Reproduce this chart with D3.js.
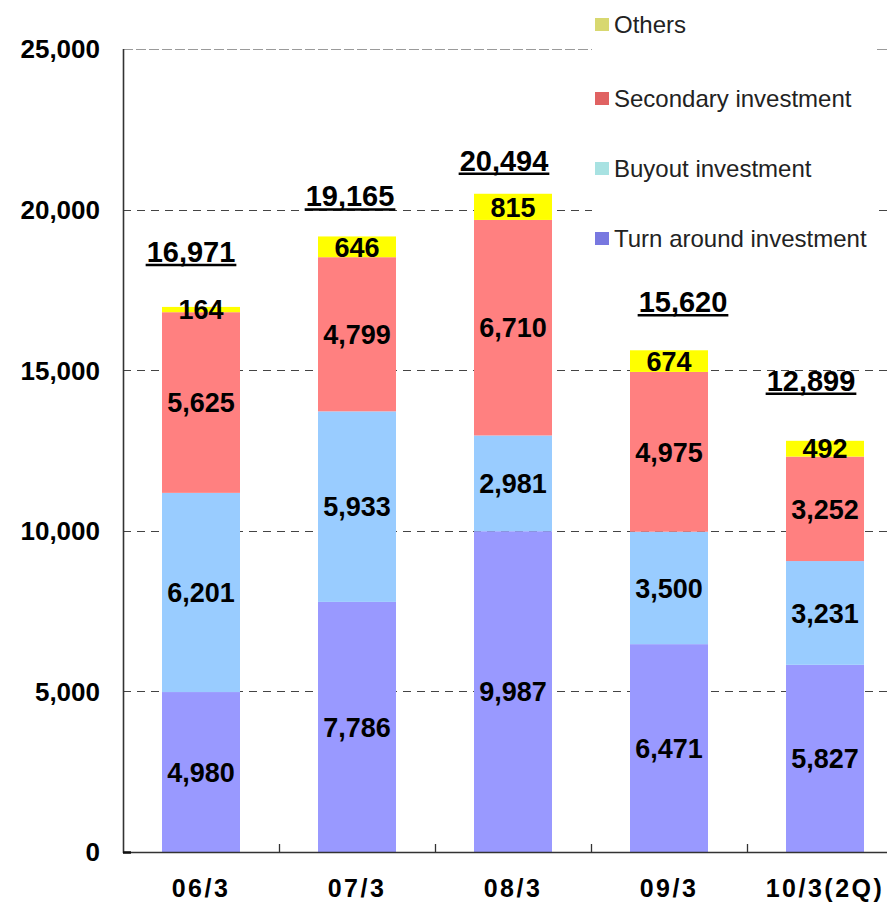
<!DOCTYPE html>
<html>
<head>
<meta charset="utf-8">
<script src="https://cdn.jsdelivr.net/npm/d3@7"></script>
<style>
  html, body { margin: 0; padding: 0; background: #fff; }
  svg { display: block; font-family: "Liberation Sans", Arial, sans-serif; }
</style>
</head>
<body>
<svg id="chart" width="887" height="903"></svg>
<script>
// ---- data ----
const categories = ["06/3", "07/3", "08/3", "09/3", "10/3(2Q)"];
const turnAround = [4980, 7786, 9987, 6471, 5827];
const buyout     = [6201, 5933, 2981, 3500, 3231];
const secondary  = [5625, 4799, 6710, 4975, 3252];
const others     = [164, 646, 815, 674, 492];
const totals     = [16971, 19165, 20494, 15620, 12899];
const yTicks     = [0, 5000, 10000, 15000, 20000, 25000];
const seriesNames = ["Turn around investment", "Buyout investment", "Secondary investment", "Others"];
const seriesKeys  = ["turn", "buyout", "secondary", "others"];

// ---- style/layout ----
const barColors    = { turn: "#9999ff", buyout: "#99ccff", secondary: "#ff8080", others: "#ffff00" };
const legendColors = { turn: "#7878e0", buyout: "#a8e2e2", secondary: "#e06262", others: "#d8d870" };
const totalGap = [43, 28, 21, 36, 45];   // pixel gap between bar top and total label underline
const totalDx  = [-10, -7, -9, 14, -14]; // horizontal nudge of total labels

const svg = d3.select("#chart");
const plotLeft = 123, plotBottom = 852, plotTop = 49, step = 156;
const x = d3.scaleBand().domain(categories).range([plotLeft, plotLeft + step * categories.length]).paddingInner(0.5).paddingOuter(0.25);
const y = d3.scaleLinear().domain([0, 25000]).range([plotBottom, plotTop]);

const rows = categories.map((c, i) => ({
  cat: c, turn: turnAround[i], buyout: buyout[i], secondary: secondary[i], others: others[i], total: totals[i]
}));
const stack = d3.stack().keys(seriesKeys)(rows);

// gridlines
svg.append("g").selectAll("line").data(yTicks.filter(t => t > 0)).join("line")
  .attr("x1", plotLeft).attr("x2", 887)
  .attr("y1", d => Math.round(y(d)) + 0.5).attr("y2", d => Math.round(y(d)) + 0.5)
  .attr("stroke", d => d === 25000 ? "#9a9a9a" : "#444")
  .attr("stroke-width", 1.2)
  .attr("stroke-dasharray", d => d === 25000 ? "10,3" : "8,6");

// bars
const g = svg.append("g");
stack.forEach(layer => {
  g.append("g").selectAll("rect").data(layer).join("rect")
    .attr("x", d => x(d.data.cat))
    .attr("width", x.bandwidth())
    .attr("y", d => y(d[1]))
    .attr("height", d => y(d[0]) - y(d[1]))
    .attr("fill", barColors[layer.key]);
});

// segment labels
stack.forEach(layer => {
  g.append("g").selectAll("text").data(layer).join("text")
    .attr("x", d => x(d.data.cat) + x.bandwidth() / 2)
    .attr("y", d => (y(d[0]) + y(d[1])) / 2)
    .attr("dy", "0.36em")
    .attr("text-anchor", "middle")
    .attr("font-size", 27).attr("font-weight", "bold").attr("fill", "#000")
    .text(d => d3.format(",")(d.data[layer.key]));
});

// total labels with underline
rows.forEach((r, i) => {
  const cx = x(r.cat) + x.bandwidth() / 2 + totalDx[i];
  const uy = y(r.total) - totalGap[i];
  const t = svg.append("text")
    .attr("x", cx).attr("y", uy - 2)
    .attr("text-anchor", "middle")
    .attr("font-size", 29).attr("font-weight", "bold").attr("fill", "#000")
    .text(d3.format(",")(r.total));
  const bb = t.node().getBBox();
  svg.append("line").attr("x1", bb.x - 1).attr("x2", bb.x + bb.width + 1)
    .attr("y1", uy + 1).attr("y2", uy + 1)
    .attr("stroke", "#000").attr("stroke-width", 2.5);
});

// axes
svg.append("line").attr("x1", plotLeft + 0.5).attr("x2", plotLeft + 0.5).attr("y1", plotTop).attr("y2", plotBottom + 1)
  .attr("stroke", "#333").attr("stroke-width", 1.6);
svg.append("line").attr("x1", plotLeft).attr("x2", 887).attr("y1", plotBottom + 0.5).attr("y2", plotBottom + 0.5)
  .attr("stroke", "#333").attr("stroke-width", 1.6);
// category boundary ticks
svg.append("g").selectAll("line").data(categories.slice(1)).join("line")
  .attr("x1", d => x(d) - x.step() * 0.25 + 0.5).attr("x2", d => x(d) - x.step() * 0.25 + 0.5)
  .attr("y1", plotBottom - 8).attr("y2", plotBottom)
  .attr("stroke", "#333").attr("stroke-width", 1.3);
svg.append("line").attr("x1", plotLeft).attr("x2", plotLeft + 8).attr("y1", plotBottom + 0.5).attr("y2", plotBottom + 0.5)
  .attr("stroke", "#111").attr("stroke-width", 2.5);

// y tick labels
svg.append("g").selectAll("text").data(yTicks).join("text")
  .attr("x", 100).attr("y", d => y(d)).attr("dy", "0.36em")
  .attr("text-anchor", "end")
  .attr("font-size", 26).attr("font-weight", "bold").attr("fill", "#000")
  .text(d => d3.format(",")(d));

// x labels
svg.append("g").selectAll("text").data(categories).join("text")
  .attr("x", d => x(d) + x.bandwidth() / 2).attr("y", 897)
  .attr("text-anchor", "middle")
  .attr("font-size", 25).attr("font-weight", "bold").attr("fill", "#000")
  .attr("letter-spacing", 2.5)
  .text(d => d);

// legend
const lg = svg.append("g");
lg.append("rect").attr("x", 592).attr("y", 0).attr("width", 284).attr("height", 252).attr("fill", "#fff");
const legendOrder = ["others", "secondary", "buyout", "turn"];
const legendY = [24, 98, 168, 238];
legendOrder.forEach((k, i) => {
  lg.append("rect").attr("x", 595).attr("y", legendY[i] - 6).attr("width", 14).attr("height", 13)
    .attr("fill", legendColors[k]);
  lg.append("text").attr("x", 614).attr("y", legendY[i]).attr("dy", "0.36em")
    .attr("font-size", 24).attr("fill", "#222")
    .text(seriesNames[seriesKeys.indexOf(k)]);
});
</script>
</body>
</html>
